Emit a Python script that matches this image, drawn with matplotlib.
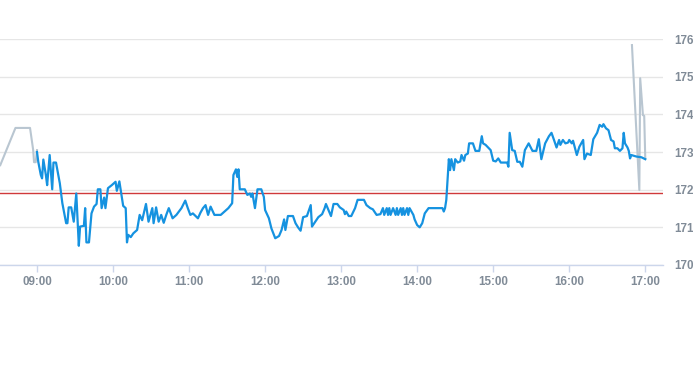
import pandas as pd
import matplotlib.pyplot as plt
import matplotlib.dates as mdates

# Datos (hora, precio)
pre_times = ['08:31', '08:43', '08:54:30', '08:57', '08:57:40', '08:59', '09:00']
pre_prices = [172.65, 173.64, 173.64, 173.05, 172.73, 172.73, 173.05]

day_times = [
    '09:00', '09:01', '09:03', '09:04', '09:05', '09:07', '09:08', '09:10', '09:12', '09:13',
    '09:15', '09:18', '09:20', '09:23', '09:24', '09:25', '09:27', '09:29', '09:31', '09:33',
    '09:34', '09:37', '09:38', '09:39', '09:41', '09:43', '09:45', '09:47', '09:48', '09:50',
    '09:51', '09:53', '09:54', '09:56', '09:59', '10:02', '10:03', '10:05', '10:08', '10:10',
    '10:11', '10:12', '10:14', '10:16', '10:19', '10:21', '10:23', '10:26', '10:28', '10:31',
    '10:32', '10:34', '10:36', '10:38', '10:40', '10:42', '10:44', '10:47', '10:50', '10:52',
    '10:54', '10:57', '10:59', '11:01', '11:03', '11:07', '11:09', '11:11', '11:13', '11:15',
    '11:17', '11:20', '11:25', '11:28', '11:31', '11:34', '11:35', '11:37', '11:38', '11:39',
    '11:40', '11:44', '11:46', '11:48', '11:49', '11:50', '11:52', '11:54', '11:57', '11:59',
    '12:00', '12:03', '12:05', '12:08', '12:11', '12:13', '12:15', '12:16', '12:18', '12:22',
    '12:24', '12:26', '12:28', '12:30', '12:33', '12:36', '12:37', '12:39', '12:42', '12:45',
    '12:47', '12:48', '12:50', '12:52', '12:54', '12:57', '12:59', '13:02', '13:03', '13:04',
    '13:06', '13:08', '13:11', '13:13', '13:18', '13:20', '13:23', '13:25', '13:28', '13:31',
    '13:33', '13:34', '13:36', '13:37', '13:38', '13:39', '13:41', '13:43', '13:44', '13:45',
    '13:47', '13:48', '13:49', '13:50', '13:52', '13:53', '13:54', '13:57', '13:58', '14:00',
    '14:02', '14:04', '14:06', '14:09', '14:20', '14:21', '14:22', '14:23', '14:25', '14:26',
    '14:27', '14:29', '14:30', '14:32', '14:34', '14:35', '14:37', '14:38', '14:40', '14:41',
    '14:44', '14:46', '14:49', '14:51', '14:52', '14:54', '14:58', '15:00', '15:02', '15:04',
    '15:06', '15:11', '15:12', '15:13', '15:15', '15:17', '15:19', '15:21', '15:23', '15:25',
    '15:28', '15:31', '15:34', '15:36', '15:38', '15:41', '15:44', '15:46', '15:48', '15:50',
    '15:52', '15:53', '15:55', '15:57', '15:59', '16:00', '16:02', '16:03', '16:06', '16:08',
    '16:11', '16:12', '16:14', '16:17', '16:19', '16:22', '16:24', '16:26', '16:27', '16:29',
    '16:31', '16:33', '16:35', '16:36', '16:38', '16:40', '16:42', '16:43', '16:44', '16:46',
    '16:47', '16:48', '16:49', '16:53', '16:57', '17:00',
]
day_prices = [
    173.00, 172.74, 172.39, 172.30, 172.80, 172.39, 172.12, 172.92, 172.01, 172.72,
    172.72, 172.17, 171.64, 171.11, 171.11, 171.53, 171.53, 171.15, 171.90, 170.51,
    171.02, 171.04, 171.51, 170.60, 170.60, 171.37, 171.55, 171.62, 172.01, 172.01,
    171.51, 171.79, 171.51, 172.04, 172.12, 172.21, 171.97, 172.22, 171.57, 171.51,
    170.60, 170.80, 170.74, 170.84, 170.93, 171.33, 171.19, 171.62, 171.15, 171.51,
    171.11, 171.53, 171.15, 171.33, 171.12, 171.33, 171.51, 171.24, 171.33, 171.42,
    171.51, 171.71, 171.51, 171.33, 171.37, 171.24, 171.39, 171.51, 171.59, 171.33,
    171.55, 171.33, 171.33, 171.42, 171.51, 171.64, 172.39, 172.54, 172.34, 172.54,
    172.01, 172.01, 171.86, 171.90, 171.81, 171.90, 171.51, 172.01, 172.01, 171.81,
    171.46, 171.24, 170.97, 170.71, 170.77, 170.93, 171.21, 170.93, 171.30, 171.30,
    171.11, 171.00, 170.91, 171.27, 171.30, 171.59, 171.02, 171.12, 171.27, 171.35,
    171.51, 171.62, 171.46, 171.30, 171.62, 171.62, 171.53, 171.46, 171.35, 171.42,
    171.30, 171.30, 171.51, 171.73, 171.73, 171.59, 171.51, 171.48, 171.33, 171.35,
    171.51, 171.33, 171.51, 171.33, 171.51, 171.33, 171.51, 171.33, 171.51, 171.33,
    171.51, 171.33, 171.51, 171.33, 171.51, 171.33, 171.51, 171.33, 171.21, 171.06,
    171.00, 171.11, 171.37, 171.51, 171.51, 171.42, 171.51, 171.73, 172.81, 172.52,
    172.81, 172.52, 172.81, 172.72, 172.75, 172.92, 172.77, 172.92, 172.96, 173.23,
    173.23, 173.03, 173.03, 173.42, 173.23, 173.19, 173.05, 172.77, 172.75, 172.83,
    172.72, 172.72, 172.61, 173.51, 173.05, 173.03, 172.74, 172.74, 172.61, 173.05,
    173.23, 173.03, 173.03, 173.34, 172.81, 173.23, 173.42, 173.51, 173.32, 173.12,
    173.32, 173.19, 173.32, 173.23, 173.25, 173.32, 173.23, 173.30, 172.92, 173.14,
    173.32, 172.81, 172.96, 172.92, 173.34, 173.51, 173.72, 173.67, 173.74, 173.63,
    173.58, 173.32, 173.28, 173.10, 173.10, 173.03, 173.10, 173.51, 173.23, 173.12,
    173.03, 172.83, 172.92, 172.88, 172.86, 172.81,
]

post_times = ['16:49:30', '16:55:20', '16:56:00', '16:58:10', '16:59:10', '17:00:00']
post_prices = [175.84, 171.99, 174.96, 173.98, 173.96, 172.83]

prev_close = 171.92
y_ticks = [170, 171, 172, 173, 174, 175, 176]
x_ticks = ['09:00', '10:00', '11:00', '12:00', '13:00', '14:00', '15:00', '16:00', '17:00']


def to_dt(lst):
    return pd.to_datetime(['2024-01-02 ' + t for t in lst], format='mixed')


plt.rcParams['font.family'] = ['Liberation Sans', 'DejaVu Sans']

fig = plt.figure(figsize=(6.93, 3.65), dpi=100)
ax = fig.add_axes([0, 0.274, 663 / 693, 0.619])

ax.plot(to_dt(pre_times), pre_prices, color='#b9c6d1', lw=1.5, zorder=3)
ax.plot(to_dt(post_times), post_prices, color='#b9c6d1', lw=1.5, zorder=3)
ax.plot(to_dt(day_times), day_prices, color='#1592e0', lw=1.6, zorder=4)
ax.axhline(prev_close, color='#d0393a', lw=1, zorder=2)

ax.set_xlim(pd.Timestamp('2024-01-02 08:30:48'), pd.Timestamp('2024-01-02 17:14:00'))
ax.set_ylim(170, 176)

ax.set_yticks(y_ticks)
ax.yaxis.tick_right()
ax.grid(axis='y', color='#e6e6e6', lw=1)
ax.set_xticks(to_dt(x_ticks))
ax.xaxis.set_major_formatter(mdates.DateFormatter('%H:%M'))

for s in ['top', 'left', 'right']:
    ax.spines[s].set_visible(False)
ax.spines['bottom'].set_color('#ccd6eb')
ax.spines['bottom'].set_linewidth(1)

ax.tick_params(axis='y', length=0, pad=8, labelsize=8.4, labelcolor='#808b97')
ax.tick_params(axis='x', length=5, width=1, color='#ccd6eb', pad=3,
               labelsize=8.4, labelcolor='#808b97')
for lbl in ax.get_xticklabels() + ax.get_yticklabels():
    lbl.set_fontweight('bold')

fig.savefig('out.png', dpi=100)
